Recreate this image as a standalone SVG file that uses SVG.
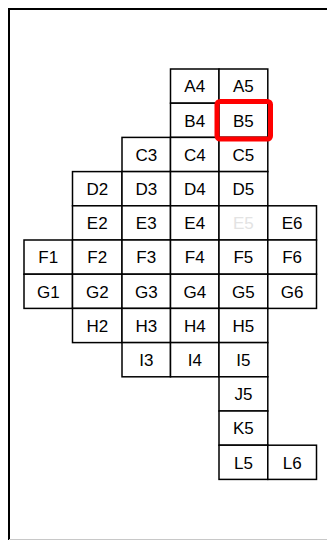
<svg xmlns="http://www.w3.org/2000/svg" width="327" height="540" viewBox="0 0 327 540">
<style>
.c rect{fill:#fff;stroke:#000;stroke-width:1.5}
.c text{font-family:"Liberation Sans",Arial,sans-serif;font-size:17px;fill:#000;text-anchor:middle}
.c text.dim{fill:#e3e3e3}
</style>
<rect x="0" y="0" width="327" height="540" fill="#fff"/>
<g id="frame">
<line x1="9" y1="9" x2="327" y2="9" stroke="#000" stroke-width="2"/>
<line x1="9" y1="8" x2="9" y2="540" stroke="#000" stroke-width="2"/>
<line x1="9" y1="539.5" x2="327" y2="539.5" stroke="#c8c8c8" stroke-width="1"/>
</g>
<g id="cells" class="c">
<g id="A4"><rect x="170.5" y="69" width="48.5" height="34.2"/><text x="194.75" y="92.3">A4</text></g>
<g id="A5"><rect x="219" y="69" width="48.8" height="34.2"/><text x="243.4" y="92.3">A5</text></g>
<g id="B4"><rect x="170.5" y="103.2" width="48.5" height="34.2"/><text x="194.75" y="126.5">B4</text></g>
<g id="B5"><rect x="219" y="103.2" width="48.8" height="34.2"/><text x="243.4" y="126.5">B5</text></g>
<g id="C3"><rect x="122" y="137.4" width="48.5" height="34.2"/><text x="146.25" y="160.7">C3</text></g>
<g id="C4"><rect x="170.5" y="137.4" width="48.5" height="34.2"/><text x="194.75" y="160.7">C4</text></g>
<g id="C5"><rect x="219" y="137.4" width="48.8" height="34.2"/><text x="243.4" y="160.7">C5</text></g>
<g id="D2"><rect x="72.5" y="171.6" width="49.5" height="34.2"/><text x="97.25" y="194.9">D2</text></g>
<g id="D3"><rect x="122" y="171.6" width="48.5" height="34.2"/><text x="146.25" y="194.9">D3</text></g>
<g id="D4"><rect x="170.5" y="171.6" width="48.5" height="34.2"/><text x="194.75" y="194.9">D4</text></g>
<g id="D5"><rect x="219" y="171.6" width="48.8" height="34.2"/><text x="243.4" y="194.9">D5</text></g>
<g id="E2"><rect x="72.5" y="205.8" width="49.5" height="34.2"/><text x="97.25" y="229.1">E2</text></g>
<g id="E3"><rect x="122" y="205.8" width="48.5" height="34.2"/><text x="146.25" y="229.1">E3</text></g>
<g id="E4"><rect x="170.5" y="205.8" width="48.5" height="34.2"/><text x="194.75" y="229.1">E4</text></g>
<g id="E5"><rect x="219" y="205.8" width="48.8" height="34.2"/><text class="dim" x="243.4" y="229.1">E5</text></g>
<g id="E6"><rect x="267.8" y="205.8" width="48.7" height="34.2"/><text x="292.15" y="229.1">E6</text></g>
<g id="F1"><rect x="24" y="240" width="48.5" height="34.2"/><text x="48.25" y="263.3">F1</text></g>
<g id="F2"><rect x="72.5" y="240" width="49.5" height="34.2"/><text x="97.25" y="263.3">F2</text></g>
<g id="F3"><rect x="122" y="240" width="48.5" height="34.2"/><text x="146.25" y="263.3">F3</text></g>
<g id="F4"><rect x="170.5" y="240" width="48.5" height="34.2"/><text x="194.75" y="263.3">F4</text></g>
<g id="F5"><rect x="219" y="240" width="48.8" height="34.2"/><text x="243.4" y="263.3">F5</text></g>
<g id="F6"><rect x="267.8" y="240" width="48.7" height="34.2"/><text x="292.15" y="263.3">F6</text></g>
<g id="G1"><rect x="24" y="274.2" width="48.5" height="34.2"/><text x="48.25" y="297.5">G1</text></g>
<g id="G2"><rect x="72.5" y="274.2" width="49.5" height="34.2"/><text x="97.25" y="297.5">G2</text></g>
<g id="G3"><rect x="122" y="274.2" width="48.5" height="34.2"/><text x="146.25" y="297.5">G3</text></g>
<g id="G4"><rect x="170.5" y="274.2" width="48.5" height="34.2"/><text x="194.75" y="297.5">G4</text></g>
<g id="G5"><rect x="219" y="274.2" width="48.8" height="34.2"/><text x="243.4" y="297.5">G5</text></g>
<g id="G6"><rect x="267.8" y="274.2" width="48.7" height="34.2"/><text x="292.15" y="297.5">G6</text></g>
<g id="H2"><rect x="72.5" y="308.4" width="49.5" height="34.2"/><text x="97.25" y="331.7">H2</text></g>
<g id="H3"><rect x="122" y="308.4" width="48.5" height="34.2"/><text x="146.25" y="331.7">H3</text></g>
<g id="H4"><rect x="170.5" y="308.4" width="48.5" height="34.2"/><text x="194.75" y="331.7">H4</text></g>
<g id="H5"><rect x="219" y="308.4" width="48.8" height="34.2"/><text x="243.4" y="331.7">H5</text></g>
<g id="I3"><rect x="122" y="342.6" width="48.5" height="34.2"/><text x="146.25" y="365.9">I3</text></g>
<g id="I4"><rect x="170.5" y="342.6" width="48.5" height="34.2"/><text x="194.75" y="365.9">I4</text></g>
<g id="I5"><rect x="219" y="342.6" width="48.8" height="34.2"/><text x="243.4" y="365.9">I5</text></g>
<g id="J5"><rect x="219" y="376.8" width="48.8" height="34.2"/><text x="243.4" y="400.1">J5</text></g>
<g id="K5"><rect x="219" y="411" width="48.8" height="34.2"/><text x="243.4" y="434.3">K5</text></g>
<g id="L5"><rect x="219" y="445.2" width="48.8" height="34.2"/><text x="243.4" y="468.5">L5</text></g>
<g id="L6"><rect x="267.8" y="445.2" width="48.7" height="34.2"/><text x="292.15" y="468.5">L6</text></g>
</g>
<g id="highlight">
<rect x="217" y="101.5" width="53.5" height="37.5" rx="3" fill="none" stroke="#ff0000" stroke-width="5"/>
</g>
</svg>
